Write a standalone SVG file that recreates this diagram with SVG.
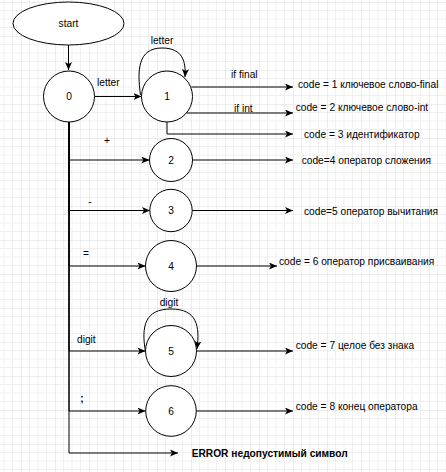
<svg xmlns="http://www.w3.org/2000/svg" width="446" height="472" viewBox="0 0 446 472">
<style>
text{font-family:"Liberation Sans",Arial,sans-serif;font-size:10.2px;fill:#000}
.node{fill:#fff;stroke:#000;stroke-width:1}
.c{text-anchor:middle}
.e{fill:none;stroke:#000;stroke-width:1}
.b{font-weight:bold}
</style>
<defs>
<pattern id="grid" patternUnits="userSpaceOnUse" x="21" y="2" width="34" height="34">
<path d="M8.5,0V34M17,0V34M25.5,0V34M0,8.5H34M0,17H34M0,25.5H34" stroke="#f0f0f0" stroke-width="1" fill="none"/>
<path d="M0,0V34M0,0H34" stroke="#dcdcdc" stroke-width="1" fill="none"/>
</pattern>
<marker id="arr" viewBox="0 0 8 7" refX="8" refY="3.5" markerWidth="8" markerHeight="7" markerUnits="userSpaceOnUse" orient="auto">
<path d="M0,0 L8,3.5 L0,7 L2,3.5 z" fill="#000"/>
</marker>
</defs>
<rect width="446" height="472" fill="#fff"/>
<rect width="446" height="472" fill="url(#grid)"/>

<g id="connectors">
<path class="e" d="M68.5,45V70" marker-end="url(#arr)"/>
<path class="e" d="M94.5,96.5H141.5" marker-end="url(#arr)"/>
<path class="e" d="M140.5,95C137,70 138,48 162,48C183,48 186,62 185,77" marker-end="url(#arr)"/>
<path class="e" d="M191.4,87H293" marker-end="url(#arr)"/>
<path class="e" d="M186.7,113H293" marker-end="url(#arr)"/>
<path class="e" d="M167,122V134H293" marker-end="url(#arr)"/>
<path class="e" d="M69,122V160H149.3" marker-end="url(#arr)"/>
<path class="e" d="M69,122V210.5H150" marker-end="url(#arr)"/>
<path class="e" d="M69,122V266H145.5" marker-end="url(#arr)"/>
<path class="e" d="M69,122V351H145.5" marker-end="url(#arr)"/>
<path class="e" d="M69,122V411H145.5" marker-end="url(#arr)"/>
<path class="e" d="M69,122V453H178" marker-end="url(#arr)"/>
<path class="e" d="M192.5,160H293" marker-end="url(#arr)"/>
<path class="e" d="M192,210.5H293" marker-end="url(#arr)"/>
<path class="e" d="M196.5,266H277" marker-end="url(#arr)"/>
<path class="e" d="M196.5,351H293" marker-end="url(#arr)"/>
<path class="e" d="M196.5,411H293" marker-end="url(#arr)"/>
<path class="e" d="M145.5,352C141,326 145,309 171,309C197,309 200,326 197,349" marker-end="url(#arr)"/>
<text x="97" y="85.5">letter</text>
<text class="c" x="162" y="44">letter</text>
<text x="231" y="78">if final</text>
<text x="234" y="112">if int</text>
<text class="c" x="107" y="143.5">+</text>
<text class="c" x="90" y="204.5">-</text>
<text class="c" x="86" y="256.5">=</text>
<text x="77" y="342.5">digit</text>
<text class="c" x="169" y="306">digit</text>
<text class="c b" x="82" y="401.5">;</text>
</g>

<g id="node-start"><ellipse class="node" cx="68.5" cy="23.5" rx="55.5" ry="21.5"/><text class="c" x="68.5" y="27">start</text></g>
<g id="node-0"><circle class="node" cx="69" cy="96.5" r="25.5"/><text class="c" x="69" y="100">0</text></g>
<g id="node-1"><circle class="node" cx="167" cy="96.5" r="25.5"/><text class="c" x="167" y="100">1</text></g>
<g id="node-2"><circle class="node" cx="171" cy="160" r="21.5"/><text class="c" x="171" y="163.5">2</text></g>
<g id="node-3"><circle class="node" cx="171" cy="210.5" r="21.2"/><text class="c" x="171" y="214">3</text></g>
<g id="node-4"><circle class="node" cx="171" cy="266" r="25.5"/><text class="c" x="171" y="269.5">4</text></g>
<g id="node-5"><circle class="node" cx="171" cy="351" r="25.5"/><text class="c" x="171" y="354.5">5</text></g>
<g id="node-6"><circle class="node" cx="171" cy="411" r="25.3"/><text class="c" x="171" y="414.5">6</text></g>

<g id="outputs">
<text x="298" y="87.5">code = 1 ключевое слово-final</text>
<text x="295.7" y="111">code = 2 ключевое слово-int</text>
<text x="304" y="137.5">code = 3 идентификатор</text>
<text x="301.7" y="163.5">code=4 оператор сложения</text>
<text x="304" y="214.5">code=5 оператор вычитания</text>
<text x="279" y="264.5">code = 6 оператор присваивания</text>
<text x="295.7" y="349">code = 7 целое без знака</text>
<text x="295.7" y="409.5">code = 8 конец оператора</text>
<text class="b" x="191.7" y="457">ERROR недопустимый символ</text>
</g>
</svg>
